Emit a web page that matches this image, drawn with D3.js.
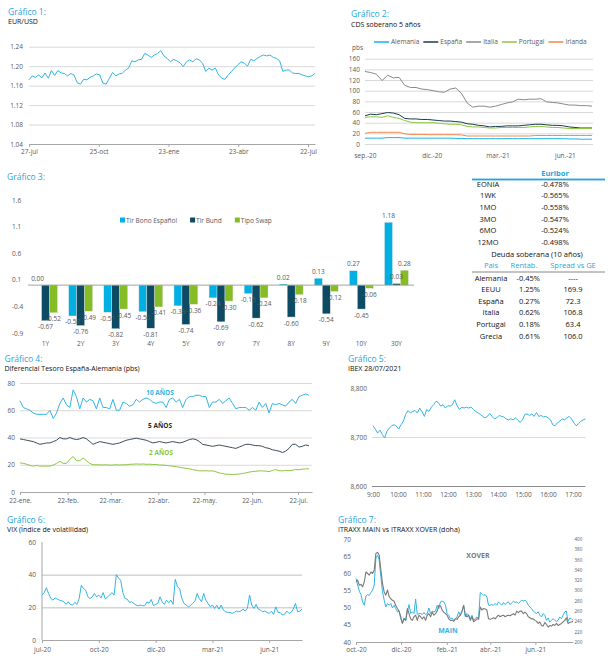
<!DOCTYPE html>
<html>
<head>
<meta charset="utf-8">
<script src="https://cdn.jsdelivr.net/npm/d3@7/dist/d3.min.js"></script>
<style>
  body { margin: 0; background: #fff; }
  svg { display: block; }
  svg text { font-family: 'Open Sans', 'Noto Sans', sans-serif; }
</style>
</head>
<body>
<svg id="sheet" width="608" height="658"></svg>
<script>
// ---- Gráfico 1: EUR/USD
const eurusd = [1.172, 1.180, 1.177, 1.182, 1.176, 1.186, 1.175, 1.191, 1.181, 1.191, 1.186, 1.185, 1.180, 1.185, 1.182,
  1.166, 1.163, 1.173, 1.172, 1.177, 1.180, 1.184, 1.182, 1.165, 1.163, 1.175, 1.187, 1.180, 1.184, 1.185, 1.192, 1.196,
  1.211, 1.209, 1.213, 1.214, 1.226, 1.223, 1.218, 1.223, 1.226, 1.232,
  1.221, 1.216, 1.209, 1.214, 1.211, 1.207, 1.199, 1.209, 1.213, 1.209, 1.215, 1.213, 1.206, 1.189, 1.196, 1.192, 1.196,
  1.182, 1.175, 1.173, 1.182, 1.189, 1.196, 1.203, 1.209, 1.206, 1.200, 1.214, 1.211, 1.216, 1.220, 1.223, 1.221, 1.223,
  1.218, 1.216, 1.211, 1.189, 1.192, 1.192, 1.186, 1.185, 1.185, 1.182, 1.180, 1.178, 1.180, 1.185]
const eurSpan = ['2020-07-27', '2021-07-31']
const eurYTicks = [1.04, 1.08, 1.12, 1.16, 1.20, 1.24]
const eurXTicks = ['2020-07-27', '2020-10-25', '2021-01-23', '2021-04-23', '2021-07-22']
const eurXLabels = ['27-jul', '25-oct', '23-ene', '23-abr', '22-jul']

// ---- Gráfico 2: CDS soberano 5 años
const cdsNames = ['Alemania', 'España', 'Italia', 'Portugal', 'Irlanda']
const cdsAlemania = [11, 11, 11, 11, 12, 12, 12, 11, 11, 11, 11, 11, 11, 11, 11, 11, 10.5, 10.5, 10, 10,
  10, 10, 10, 10, 10, 10, 10, 10, 10, 10, 10, 10, 10, 10, 10, 10, 9.5, 9.5, 9, 9, 9]
const cdsEspana = [53, 56, 55, 57, 59, 58, 55, 48, 47, 47, 46, 46, 45, 44, 43, 43, 42, 41, 38, 37,
  35, 34, 32, 33, 33, 34, 34, 34, 35, 36, 37, 37, 36, 35, 35, 34, 32, 31, 30, 30, 30]
const cdsItalia = [136, 134, 131, 119, 129, 124, 125, 110, 106, 106, 103, 102, 100, 98, 97, 103, 105, 95, 77, 69,
  71, 71, 69, 71, 74, 77, 79, 84, 83, 84, 84, 85, 79, 78, 77, 75, 73, 73, 72, 72, 71]
const cdsPortugal = [50, 51, 51, 50, 53, 50, 48, 44, 41, 40, 40, 40, 40, 39, 38, 37, 37, 36, 33, 32,
  32, 31, 30, 30, 31, 31, 31, 31, 31, 32, 33, 33, 32, 31, 31, 30, 29, 29, 29, 29, 29]
const cdsIrlanda = [20, 22, 22, 22, 22, 22, 22, 19, 18, 18, 18, 17.5, 17.5, 17.5, 17.5, 17.5, 17.5, 17, 15, 15,
  15, 15, 15, 15, 15, 15, 15, 15, 15, 15, 16, 16, 16, 16, 16, 16, 16, 16, 16, 16, 16]
const cdsSpan = ['2020-09-01', '2021-07-08']
const cdsYTicks = [0, 20, 40, 60, 80, 100, 120, 140, 160]
const cdsXTicks = ['2020-09-01', '2020-12-01', '2021-03-01', '2021-06-01']
const cdsXLabels = ['sep.-20', 'dic.-20', 'mar.-21', 'jun.-21']

// ---- Gráfico 3: curvas
const maturities = ['1Y', '2Y', '3Y', '4Y', '5Y', '6Y', '7Y', '8Y', '9Y', '10Y', '30Y']
const curveNames = ['Tir Bono Español', 'Tir Bund', 'Tipo Swap']
const tirEspana = [0.00, -0.58, -0.51, -0.50, -0.39, -0.24, -0.16, 0.02, 0.13, 0.27, 1.18]
const tirBund = [-0.67, -0.76, -0.82, -0.81, -0.74, -0.69, -0.62, -0.60, -0.54, -0.45, 0.03]
const tipoSwap = [-0.52, -0.49, -0.45, -0.41, -0.36, -0.30, -0.24, -0.18, -0.12, -0.06, 0.28]
const curveYTicks = [-0.9, -0.4, 0.1, 0.6, 1.1, 1.6]

// ---- Tabla
const euriborTerms = ['EONIA', '1WK', '1MO', '3MO', '6MO', '12MO']
const euriborRates = [-0.478, -0.565, -0.558, -0.547, -0.524, -0.498]
const debtHeaders = ['Pais', 'Rentab.', 'Spread vs GE']
const debtCountries = ['Alemania', 'EEUU', 'España', 'Italia', 'Portugal', 'Grecia']
const debtYield = [-0.45, 1.25, 0.27, 0.62, 0.18, 0.61]
const debtSpread = [null, 169.9, 72.3, 106.8, 63.4, 106.0]

// ---- Gráfico 4: diferencial España-Alemania
const dif10y = [67, 62, 61, 60, 58, 57, 57, 57, 57, 60, 54, 58, 65, 69, 64, 62, 75, 70, 61, 69,
  66, 68, 67, 61, 69, 62, 62, 61, 68, 60, 60, 66, 65, 63, 64, 68, 66, 68, 69, 68,
  66, 65, 66, 66, 62, 68, 69, 66, 68, 62, 68, 70, 70, 71, 71, 70, 70, 62, 66, 66,
  68, 65, 67, 69, 65, 61, 62, 62, 62, 60, 62, 60, 66, 62, 65, 58, 65, 64, 65, 64,
  63, 66, 68, 65, 70, 71, 72, 71]
const dif5y = [39, 38.5, 38, 37.5, 37, 36, 35, 35.5, 36, 36, 37, 38, 40, 39, 39, 40, 39, 38.5, 39, 40,
  39, 37, 35, 36, 37, 36.5, 36, 35.5, 35, 35.5, 36, 37, 38, 38.5, 39, 39.5, 39, 38.5, 38, 37,
  36, 36.5, 37, 36.5, 36, 36.5, 37, 36.5, 36, 36.5, 37.5, 38.5, 39, 38.5, 37, 35, 34.5, 34, 33.5, 34,
  34.5, 34, 33.5, 33, 32.5, 32, 33, 34, 35, 35, 34.5, 34, 34, 33.5, 32.5, 32, 31, 30.5, 30, 29,
  30, 32, 35, 35, 33, 33.5, 34.5, 34]
const dif2y = [21.4, 21, 20.4, 19.5, 19, 19.5, 19, 19, 19, 19, 19.7, 21, 22.5, 21, 21, 24, 26, 23, 23, 25,
  23, 21, 20, 20, 20, 19.8, 20, 19.7, 19.8, 20, 19.8, 20, 20, 20.3, 20.4, 20.6, 20.4, 20.6, 20.3, 20.4,
  20.2, 20.2, 19.8, 19.8, 19.5, 19.2, 19, 18.6, 18.2, 17.7, 17.4, 17, 16.5, 16, 15.5, 15.5, 15.6, 15.4, 15.5, 14.8,
  14, 13.5, 13, 13, 12.8, 13, 13.2, 13.6, 14, 14.6, 15, 15.2, 15.5, 15.5, 15.3, 15, 15.8, 16.5, 15.6, 15.5,
  15.8, 15.6, 16, 16.5, 16.3, 16.8, 17, 17]
const difNames = ['10 AÑOS', '5 AÑOS', '2 AÑOS']
const difSpan = ['2021-01-22', '2021-07-29']
const difYTicks = [0, 20, 40, 60, 80]
const difXTicks = ['2021-01-22', '2021-02-22', '2021-03-22', '2021-04-22', '2021-05-22', '2021-06-22', '2021-07-22']
const difXLabels = ['22-ene.', '22-feb.', '22-mar.', '22-abr.', '22-may.', '22-jun.', '22-jul.']

// ---- Gráfico 5: IBEX intradía
const ibex = [8723, 8716, 8708, 8714, 8705, 8698, 8712, 8718, 8723, 8725, 8722, 8716, 8725, 8732, 8746, 8754, 8749,
  8752, 8754, 8749, 8759, 8752, 8742, 8756, 8752, 8761, 8766, 8773, 8770, 8763, 8766, 8759, 8764, 8763, 8766, 8776,
  8764, 8756, 8761, 8759, 8761, 8759, 8761, 8756, 8752, 8749, 8746, 8742, 8739, 8742, 8748, 8742, 8737, 8739, 8744,
  8742, 8741, 8737, 8735, 8737, 8735, 8739, 8735, 8730, 8735, 8746, 8747, 8744, 8747, 8742, 8750, 8742, 8744, 8741,
  8742, 8739, 8735, 8725, 8723, 8729, 8732, 8737, 8735, 8739, 8742, 8737, 8729, 8723, 8727, 8732, 8735, 8737]
const ibexSpan = ['09:00', '17:30']
const ibexYTicks = [8600, 8700, 8800]
const ibexXTicks = ['09:00', '10:00', '11:00', '12:00', '13:00', '14:00', '15:00', '16:00', '17:00']

// ---- Gráfico 6: VIX
const vix = [27.5, 29, 32, 28.5, 25.4, 24.4, 25.8, 25, 24.4, 24, 23.4, 21.8, 23.4, 21.8, 21.4, 23, 21.8, 25.4, 33.5, 31.5,
  30.5, 26.4, 25.4, 26.4, 28.5, 26.4, 27.5, 25.8, 29, 25, 26.4, 27.5, 29, 27.5, 40, 38, 36.6, 29, 25.4, 25,
  23, 23.4, 22.4, 21.4, 21, 21.4, 21, 21, 23.4, 22.4, 24.8, 21, 21.8, 22.4, 26.4, 23.4, 21.8, 24.4, 22.8, 24.4,
  21.8, 37.2, 32.5, 31.5, 25.4, 22.4, 21.4, 20.3, 21, 22.4, 23.8, 28.5, 25.4, 23.4, 28.5, 24.4, 22.4, 20.3, 21.4, 19.3,
  21.4, 18.9, 21.4, 18.3, 17.3, 16.9, 16.9, 16.3, 16.9, 17.7, 17.3, 17.7, 18.9, 17.7, 19.3, 27.5, 21.4, 19.3, 21.8, 18.9,
  18.3, 17.3, 17.7, 16.9, 16.3, 17.7, 15.7, 20.3, 16.9, 16.9, 15.3, 15.7, 17.7, 16.3, 16.9, 18.9, 22.4, 17.3, 17.7, 18.9]
const vixYTicks = [0, 20, 40, 60]
const vixTickIdx = [0, 26, 52, 78, 104]
const vixXLabels = ['jul-20', 'oct-20', 'dic-20', 'mar-21', 'jun-21']

// ---- Gráfico 7: iTraxx
const itxMain = [58.5, 56.6, 54.8, 53.8, 51.7, 50.7, 53.4, 53.8, 53.6, 54.4, 55.1, 56.6, 64.4, 65.3, 63.9, 59, 54.6, 52.2,
  50.2, 51.2, 50.7, 51.2, 49.9, 50.7, 49.7, 48.8, 49, 46.8, 45.6, 47, 46.3, 48.8, 50.9, 48.3, 48.8, 48.3, 52.5, 48,
  48.3, 48.3, 48, 48.6, 48, 48.3, 49.9, 48.3, 49, 48.8, 49, 50.7, 49.7, 51.7, 51.9, 51.7, 50.7, 48.3, 47.8, 46.8, 47,
  46.3, 46.8, 47.3, 48.8, 47.8, 48.8, 50.7, 47.3, 48.3, 47.8, 46.8, 47.8, 46.3, 46.8, 47.3, 46.8, 54.4, 54.1, 53.6,
  53.8, 53.1, 50.7, 50.7, 50.9, 50.7, 51.2, 50.7, 51.7, 51.2, 50.7, 51.5, 50.9, 51.4, 51.7, 50.9, 51.4, 51.9, 51.5,
  51.7, 51.2, 51.7, 52.2, 51.9, 52.2, 51.7, 50.7, 50.2, 49.7, 49, 48.6, 48.3, 48.8, 47.8, 47.3, 48.3, 47.8, 46.3, 47,
  45.8, 46.3, 46.8, 46.3, 46, 46.3, 47.3, 46.8, 47.8, 48.8, 49, 46, 47, 46.8, 46.3]
const itxXover = [317, 320, 310, 312, 307, 317, 336, 333, 330, 336, 333, 340, 372, 374, 369, 340, 314, 297, 291, 301,
  288, 284, 281, 279, 271, 265, 260, 249, 236, 245, 242, 265, 255, 245, 242, 249, 252, 242, 252, 249, 245, 249, 242,
  252, 255, 249, 258, 252, 255, 260, 271, 270, 262, 258, 255, 252, 245, 242, 242, 240, 245, 244, 249, 252, 260, 271,
  252, 249, 252, 242, 249, 239, 242, 245, 244, 268, 262, 265, 264, 262, 245, 244, 245, 247, 245, 249, 252, 249, 251,
  252, 249, 251, 252, 251, 253, 255, 252, 260, 257, 260, 260, 255, 258, 255, 249, 247, 245, 245, 242, 240, 236, 239,
  232, 231, 238, 234, 229, 232, 231, 234, 232, 236, 232, 234, 236, 239, 242, 247, 236, 238, 239, 240]
const itxSpan = ['2020-10-01', '2021-07-22']
const itxLeftTicks = [40, 45, 50, 55, 60, 65, 70]
const itxRightTicks = [200, 220, 240, 260, 280, 300, 320, 340, 360, 380, 400]
const itxXTicks = ['2020-10-01', '2020-12-01', '2021-02-01', '2021-04-01', '2021-06-01']
const itxXLabels = ['oct.-20', 'dic.-20', 'feb.-21', 'abr.-21', 'jun.-21']

// ---------------------------------------------------------------
const titleBlue = '#1fa6de'
const lineBlue = '#33b5e5'
const gridCol = '#d9d9d9'
const axisCol = '#a6a6a6'
const labelGray = '#595959'
const parse = d3.timeParse('%Y-%m-%d')
const parseT = d3.timeParse('%H:%M')

const svg = d3.select('#sheet')

function heading(x, y, title, sub) {
  svg.append('text').attr('x', x).attr('y', y).attr('font-size', 8.5).attr('fill', titleBlue).text(title)
  if (sub) svg.append('text').attr('x', x).attr('y', y + 9.3).attr('font-size', 7).attr('fill', '#111').text(sub)
}

// spread values evenly over [t0, t1]
function spread(values, t0, t1) {
  const step = (t1 - t0) / (values.length - 1)
  return values.map((v, i) => ({ t: new Date(+t0 + i * step), v: v }))
}

function drawLine(pts, x, y, color, w) {
  svg.append('path').datum(pts)
    .attr('fill', 'none')
    .attr('stroke', color)
    .attr('stroke-width', w || 1)
    .attr('stroke-linejoin', 'round')
    .attr('d', d3.line().x(d => x(d.t)).y(d => y(d.v)))
}

function gridStyle(col) {
  return a => {
    a.select('.domain').remove()
    a.selectAll('.tick line').attr('stroke', col || gridCol)
    a.selectAll('text').attr('fill', labelGray).attr('font-size', 6.5)
  }
}

function axisStyle(a) {
  a.select('.domain').attr('stroke', axisCol)
  a.selectAll('.tick line').attr('stroke', axisCol)
  a.selectAll('text').attr('fill', labelGray).attr('font-size', 6.5)
}

// ---------------- Gráfico 1
heading(8, 15, 'Gráfico 1:', 'EUR/USD')
const x1 = d3.scaleTime().domain(eurSpan.map(parse)).range([29, 315])
const y1 = d3.scaleLinear().domain([1.04, 1.24]).range([144, 46.7])
svg.append('g').attr('transform', 'translate(29,0)')
  .call(d3.axisLeft(y1).tickValues(eurYTicks).tickSize(-286).tickPadding(6).tickFormat(d => d.toFixed(2)))
  .call(gridStyle())
svg.append('g').attr('transform', 'translate(0,144)')
  .call(d3.axisBottom(x1).tickValues(eurXTicks.map(parse)).tickSize(3).tickSizeOuter(0).tickPadding(2.5)
    .tickFormat((d, i) => eurXLabels[i]))
  .call(axisStyle)
drawLine(spread(eurusd, ...x1.domain()), x1, y1, lineBlue, 1)

// ---------------- Gráfico 2
heading(351, 17.3, 'Gráfico 2:', 'CDS soberano 5 años')
const cdsColors = ['#17b3e6', '#1b3a4f', '#8a8a8a', '#8cc63e', '#f4874b']
const x2 = d3.scaleTime().domain(cdsSpan.map(parse)).range([365, 592])
const y2 = d3.scaleLinear().domain([0, 160]).range([144, 58.7])
svg.append('g').attr('transform', 'translate(365,0)')
  .call(d3.axisLeft(y2).tickValues(cdsYTicks).tickSize(-228).tickPadding(5))
  .call(gridStyle())
svg.append('g').attr('transform', 'translate(0,144)')
  .call(d3.axisBottom(x2).tickValues(cdsXTicks.map(parse)).tickSize(0).tickPadding(9)
    .tickFormat((d, i) => cdsXLabels[i]))
  .call(gridStyle())
svg.append('text').attr('x', 352).attr('y', 50.3).attr('font-size', 6.5).attr('fill', labelGray).text('pbs')
const cdsSeries = [cdsAlemania, cdsEspana, cdsItalia, cdsPortugal, cdsIrlanda]
;[2, 1, 3, 4, 0].forEach(k => drawLine(spread(cdsSeries[k], ...x2.domain()), x2, y2, cdsColors[k], 1))
let lx = 374
cdsNames.forEach((name, i) => {
  svg.append('line').attr('x1', lx).attr('x2', lx + 15).attr('y1', 42).attr('y2', 42)
    .attr('stroke', cdsColors[i]).attr('stroke-width', 1.5)
  const t = svg.append('text').attr('x', lx + 17).attr('y', 44.3).attr('font-size', 6.5)
    .attr('fill', labelGray).text(name)
  lx += 17 + t.node().getComputedTextLength() + 4
})

// ---------------- Gráfico 3
heading(7, 180, 'Gráfico 3:')
const curveColors = ['#00b0e3', '#0d4a63', '#86bc25']
const curves = [tirEspana, tirBund, tipoSwap]
const x3 = d3.scaleBand().domain(maturities).range([28, 414]).paddingInner(0.32).paddingOuter(0.16)
const s3 = d3.scaleBand().domain(curveNames).range([0, x3.bandwidth()])
const y3 = d3.scaleLinear().domain([-0.9, 1.6]).range([333, 200])

svg.append('g').attr('transform', 'translate(12,0)')
  .call(d3.axisLeft(y3).tickValues(curveYTicks).tickSize(0).tickFormat(d => d.toFixed(1)))
  .call(gridStyle())
  .call(a => a.selectAll('text').attr('text-anchor', 'start').attr('x', 0))

curves.forEach((vals, k) => {
  svg.append('g').selectAll('rect').data(vals).enter().append('rect')
    .attr('x', (d, i) => x3(maturities[i]) + s3(curveNames[k]))
    .attr('y', d => y3(Math.max(0, d)))
    .attr('width', s3.bandwidth())
    .attr('height', d => Math.abs(y3(d) - y3(0)))
    .attr('fill', curveColors[k])
    .attr('stroke', '#e6e6e6')
    .attr('stroke-width', 0.4)
})
svg.append('line').attr('x1', 28).attr('x2', 414).attr('y1', y3(0)).attr('y2', y3(0))
  .attr('stroke', '#8c8c8c').attr('stroke-width', 0.8)
curves.forEach((vals, k) => {
  svg.append('g').selectAll('text').data(vals).enter().append('text')
    .attr('x', (d, i) => x3(maturities[i]) + s3(curveNames[k]) + s3.bandwidth() / 2)
    .attr('y', d => d < 0 ? y3(d) + 8.5 : y3(d) - 4.5)
    .attr('text-anchor', 'middle')
    .attr('font-size', 6.5)
    .attr('fill', labelGray)
    .text(d => d.toFixed(2))
})
svg.append('g').attr('transform', 'translate(0,334)')
  .call(d3.axisBottom(x3).tickSize(0).tickPadding(7))
  .call(gridStyle())
let gx = 120
curveNames.forEach((name, k) => {
  svg.append('rect').attr('x', gx).attr('y', 217.5).attr('width', 5).attr('height', 5).attr('fill', curveColors[k])
  const t = svg.append('text').attr('x', gx + 6).attr('y', 222.5).attr('font-size', 6.5)
    .attr('fill', labelGray).text(name)
  gx += 6 + t.node().getComputedTextLength() + 13
})

// ---------------- Tabla
const tb = svg.append('g').attr('font-size', 7.5)
const rowStep = 11.6
tb.append('text').attr('x', 555).attr('y', 176).attr('text-anchor', 'middle')
  .attr('fill', titleBlue).attr('font-weight', 'bold').attr('font-size', 7.5).text('Euribor')
tb.append('rect').attr('x', 472).attr('y', 178.6).attr('width', 133).attr('height', 1.8).attr('fill', titleBlue)
euriborTerms.forEach((term, i) => {
  const y = 186.7 + i * rowStep
  tb.append('text').attr('x', 488).attr('y', y).attr('text-anchor', 'middle').attr('font-size', 7.5).attr('fill', '#111').text(term)
  tb.append('text').attr('x', 555).attr('y', y).attr('text-anchor', 'middle').attr('font-size', 7.5).attr('fill', '#111')
    .text(euriborRates[i].toFixed(3) + '%')
})
tb.append('text').attr('x', 537).attr('y', 256.6).attr('text-anchor', 'middle').attr('font-size', 7.5)
  .attr('fill', '#111').text('Deuda soberana (10 años)')
const colX = [491, 524, 573]
debtHeaders.forEach((h, j) => {
  tb.append('text').attr('x', colX[j]).attr('y', 267.6).attr('text-anchor', 'middle').attr('font-size', 7.5)
    .attr('fill', titleBlue).text(h)
})
tb.append('line').attr('x1', 472).attr('x2', 605).attr('y1', 272).attr('y2', 272)
  .attr('stroke', '#555').attr('stroke-width', 0.7)
debtCountries.forEach((c, i) => {
  const y = 280.6 + i * rowStep
  tb.append('text').attr('x', colX[0]).attr('y', y).attr('text-anchor', 'middle').attr('font-size', 7.5).attr('fill', '#111').text(c)
  tb.append('text').attr('x', 540).attr('y', y).attr('text-anchor', 'end').attr('font-size', 7.5).attr('fill', '#111')
    .text(debtYield[i].toFixed(2) + '%')
  tb.append('text').attr('x', colX[2]).attr('y', y).attr('text-anchor', 'middle').attr('font-size', 7.5).attr('fill', '#111')
    .text(debtSpread[i] == null ? '----' : debtSpread[i].toFixed(1))
})

// ---------------- Gráfico 4
heading(4.5, 362, 'Gráfico 4:', 'Diferencial Tesoro España-Alemania (pbs)')
const difColors = [lineBlue, '#3c4e5a', '#8dc63f']
const x4 = d3.scaleTime().domain([parse('2021-01-22'), parse('2021-07-31')]).range([20, 312])
const y4 = d3.scaleLinear().domain([0, 80]).range([492, 383])
svg.append('g').attr('transform', 'translate(20,0)')
  .call(d3.axisLeft(y4).tickValues(difYTicks).tickSize(-292).tickPadding(5))
  .call(gridStyle())
svg.append('g').attr('transform', 'translate(0,492)')
  .call(d3.axisBottom(x4).tickValues(difXTicks.map(parse)).tickSize(3).tickSizeOuter(0).tickPadding(3)
    .tickFormat((d, i) => difXLabels[i]))
  .call(axisStyle)
;[dif10y, dif5y, dif2y].forEach((s, k) => drawLine(spread(s, ...difSpan.map(parse)), x4, y4, difColors[k], 1))
svg.append('text').attr('x', 160).attr('y', 395.3).attr('text-anchor', 'middle').attr('font-size', 6.5)
  .attr('font-weight', 'bold').attr('fill', difColors[0]).text(difNames[0])
svg.append('text').attr('x', 160).attr('y', 428.3).attr('text-anchor', 'middle').attr('font-size', 6.5)
  .attr('font-weight', 'bold').attr('fill', '#1e2a33').text(difNames[1])
svg.append('text').attr('x', 161).attr('y', 455.3).attr('text-anchor', 'middle').attr('font-size', 6.5)
  .attr('font-weight', 'bold').attr('fill', difColors[2]).text(difNames[2])

// ---------------- Gráfico 5
heading(348, 361.5, 'Gráfico 5:', 'IBEX 28/07/2021')
const x5 = d3.scaleTime().domain(ibexSpan.map(parseT)).range([373, 585.5])
const y5 = d3.scaleLinear().domain([8600, 8800]).range([486, 388])
svg.append('g').attr('transform', 'translate(372,0)')
  .call(d3.axisLeft(y5).tickValues(ibexYTicks).tickSize(-213.5).tickPadding(5).tickFormat(d3.format(',')))
  .call(gridStyle())
  .call(a => a.selectAll('.tick line').attr('stroke', d => d === 8700 ? gridCol : (d === 8600 ? '#8c8c8c' : 'none')))
svg.append('g').attr('transform', 'translate(0,486)')
  .call(d3.axisBottom(x5).tickValues(ibexXTicks.map(parseT)).tickSize(0).tickPadding(6.5)
    .tickFormat(d3.timeFormat('%-H:%M')))
  .call(gridStyle())
drawLine(spread(ibex, ...x5.domain()), x5, y5, lineBlue, 1)

// ---------------- Gráfico 6
heading(7, 522.5, 'Gráfico 6:', 'VIX (Índice de volatilidad)')
const x6 = d3.scaleLinear().domain([0, vix.length - 1]).range([42, 302])
const y6 = d3.scaleLinear().domain([0, 60]).range([640, 542])
svg.append('g').attr('transform', 'translate(42,0)')
  .call(d3.axisLeft(y6).tickValues(vixYTicks).tickSize(-260).tickPadding(6))
  .call(gridStyle('#bfbfbf'))
  .call(a => a.selectAll('.tick line').attr('stroke', d => (d === 20 || d === 40) ? '#bfbfbf' : 'none'))
svg.append('line').attr('x1', 42).attr('x2', 42).attr('y1', 542).attr('y2', 640).attr('stroke', axisCol)
svg.append('g').attr('transform', 'translate(0,640)')
  .call(d3.axisBottom(x6).tickValues(vixTickIdx).tickSize(3).tickSizeOuter(0).tickPadding(4.5)
    .tickFormat((d, i) => vixXLabels[i]))
  .call(axisStyle)
svg.append('path').datum(vix)
  .attr('fill', 'none').attr('stroke', lineBlue).attr('stroke-width', 1).attr('stroke-linejoin', 'round')
  .attr('d', d3.line().x((d, i) => x6(i)).y(d => y6(d)))

// ---------------- Gráfico 7
heading(338, 522.5, 'Gráfico 7:', 'ITRAXX MAIN vs ITRAXX XOVER (doha)')
const x7 = d3.scaleTime().domain(itxSpan.map(parse)).range([356, 573])
const yL = d3.scaleLinear().domain([40, 70]).range([642, 539])
const yR = d3.scaleLinear().domain([200, 400]).range([642, 539])
svg.append('g').attr('transform', 'translate(356,0)')
  .call(d3.axisLeft(yL).tickValues(itxLeftTicks).tickSize(0).tickPadding(5))
  .call(gridStyle())
svg.append('g').attr('transform', 'translate(573,0)')
  .call(d3.axisRight(yR).tickValues(itxRightTicks).tickSize(0).tickPadding(1.5))
  .call(gridStyle())
  .call(a => a.selectAll('text').attr('font-size', 4.5))
svg.append('g').attr('transform', 'translate(0,642)')
  .call(d3.axisBottom(x7).tickValues(itxXTicks.map(parse)).tickSize(3).tickSizeOuter(0).tickPadding(2.7)
    .tickFormat((d, i) => itxXLabels[i]))
  .call(axisStyle)
drawLine(spread(itxMain, ...x7.domain()), x7, yL, lineBlue, 1)
drawLine(spread(itxXover, ...x7.domain()), x7, yR, '#7a7a7a', 1.1)
svg.append('text').attr('x', 478).attr('y', 557.5).attr('text-anchor', 'middle').attr('font-size', 7)
  .attr('font-weight', 'bold').attr('fill', '#7a7a7a').text('XOVER')
svg.append('text').attr('x', 448).attr('y', 632.5).attr('text-anchor', 'middle').attr('font-size', 7)
  .attr('font-weight', 'bold').attr('fill', lineBlue).text('MAIN')
</script>
</body>
</html>
